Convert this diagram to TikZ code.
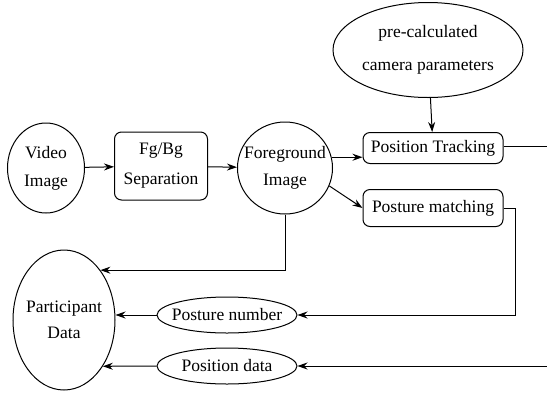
\documentclass[tikz,border=0pt]{standalone}
\usepackage{fontspec}
\setmainfont{Liberation Serif}
\usetikzlibrary{shapes.geometric,arrows.meta}
\begin{document}
\begin{tikzpicture}[x=1pt,y=-1pt,
  every node/.style={font=\fontsize{17.5}{20}\selectfont, inner sep=0pt, align=center},
  oval/.style={draw, ellipse, line width=1pt, inner xsep=-30pt, inner ysep=-20pt},
  rbox/.style={draw, rectangle, rounded corners=7pt, line width=1pt},
  arr/.style={line width=1pt, -{Stealth[length=10pt,width=7pt]}},
  ln/.style={line width=1pt}]
\useasboundingbox (0,0) rectangle (547,392);
\node[oval, minimum width=77, minimum height=90] (vi) at (46,168) {Video\\[8pt]Image};
\node[rbox, minimum width=93, minimum height=68] (fb) at (161,166) {Fg/Bg\\[10pt]Separation};
\node[oval, minimum width=95, minimum height=92] (fg) at (285,168) {Foreground\\[7pt]Image};
\node[oval, minimum width=190, minimum height=95] (cp) at (428,50) {pre-calculated\\[13pt]camera parameters};
\node[rbox, minimum width=140, minimum height=31] (pt) at (433,148) {Position Tracking};
\node[rbox, minimum width=140, minimum height=37] (pm) at (433,208) {Posture matching};
\node[oval, minimum width=102, minimum height=140] (pd) at (64,320) {Participant\\[6pt]Data};
\node[oval, minimum width=140, minimum height=36] (pn) at (227,315) {Posture number};
\node[oval, minimum width=140, minimum height=36] (ps) at (227,366) {Position data};
\coordinate (r1) at (547,146);
\coordinate (r2) at (547,366);
\draw[arr] (vi) -- (fb);
\draw[arr] (fb) -- (fg);
\draw[arr] (cp) -- (pt);
\draw[arr] (fg.13) -- (fg.13 -| pt.west);
\draw[arr] (fg.-22) -- (pm.west);
\draw[ln] (pt.east |- r1) -- (r1);
\draw[arr] (fg.south) |- (pd.north east);
\draw[arr] (pm.east) -- ++(12,0) |- (pn.east);
\draw[arr] (pn.west) -- (pn.west -| pd.east);
\draw[arr] (r2) -- (ps.east);
\draw[arr] (ps.west) -- (pd.-50);
\end{tikzpicture}
\end{document}
